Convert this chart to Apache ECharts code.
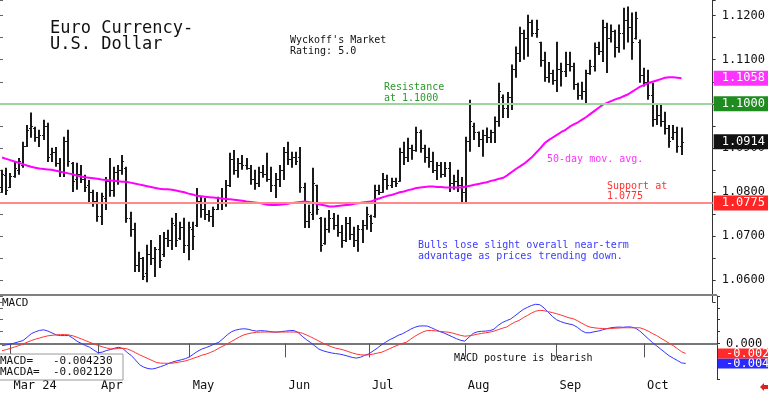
<!DOCTYPE html>
<html><head><meta charset="utf-8">
<script src="https://cdn.jsdelivr.net/npm/echarts@6/dist/echarts.min.js"></script>
<style>html,body{margin:0;padding:0;background:#fff}#c{width:768px;height:393px}</style>
</head><body><div id="c"></div>
<script>
// ---- data ----
const firstDay = '2024-02-28';
const axisLastDay = '2024-10-24';
const opens = [
1.0810,1.0838,1.0812,1.0835,1.0850,1.0862,1.0905,1.0945,1.0945,1.0925,
1.0930,1.0950,1.0885,1.0890,1.0865,1.0845,1.0915,1.0865,1.0830,1.0840,
1.0830,1.0815,1.0800,1.0780,1.0745,1.0785,1.0825,1.0805,1.0845,1.0850,
1.0855,1.0740,1.0715,1.0635,1.0650,1.0615,1.0660,1.0650,1.0670,1.0660,
1.0695,1.0690,1.0725,1.0695,1.0720,1.0680,1.0715,1.0725,1.0780,1.0760,
1.0750,1.0745,1.0762,1.0775,1.0785,1.0815,1.0875,1.0850,1.0865,1.0860,
1.0855,1.0830,1.0820,1.0845,1.0840,1.0830,1.0815,1.0830,1.0850,1.0890,
1.0875,1.0880,1.0880,1.0810,1.0735,1.0750,1.0815,1.0740,1.0685,1.0715,
1.0740,1.0725,1.0710,1.0690,1.0730,1.0705,1.0690,1.0715,1.0725,1.0745,
1.0745,1.0805,1.0800,1.0830,1.0815,1.0825,1.0825,1.0890,1.0880,1.0900,
1.0895,1.0935,1.0900,1.0880,1.0870,1.0850,1.0860,1.0840,1.0855,1.0820,
1.0825,1.0815,1.0800,1.0915,1.0950,1.0935,1.0920,1.0930,1.0925,1.0935,
1.0960,1.1015,1.0990,1.1015,1.1080,1.1115,1.1160,1.1150,1.1185,1.1160,
1.1140,1.1100,1.1060,1.1070,1.1055,1.1080,1.1075,1.1090,1.1085,1.1045,
1.1020,1.1030,1.1070,1.1085,1.1130,1.1120,1.1175,1.1150,1.1165,1.1130,
1.1160,1.1190,1.1175,1.1150,1.1140,1.1065,1.1050,1.1020,1.0965,1.0975,
1.0960,1.0945,1.0925,1.0935,1.0905];
const highs = [
1.0850,1.0855,1.0843,1.0868,1.0877,1.0914,1.0952,1.0980,1.0948,1.0941,
1.0964,1.0957,1.0900,1.0902,1.0877,1.0925,1.0941,1.0868,1.0866,1.0861,
1.0839,1.0827,1.0805,1.0800,1.0798,1.0834,1.0877,1.0857,1.0861,1.0884,
1.0857,1.0755,1.0730,1.0664,1.0652,1.0680,1.0691,1.0675,1.0702,1.0709,
1.0714,1.0741,1.0752,1.0732,1.0741,1.0732,1.0732,1.0809,1.0789,1.0786,
1.0759,1.0766,1.0789,1.0809,1.0827,1.0889,1.0895,1.0877,1.0884,1.0877,
1.0861,1.0850,1.0857,1.0861,1.0889,1.0857,1.0843,1.0861,1.0902,1.0914,
1.0891,1.0891,1.0902,1.0821,1.0771,1.0855,1.0816,1.0743,1.0741,1.0759,
1.0752,1.0748,1.0725,1.0743,1.0743,1.0721,1.0725,1.0736,1.0766,1.0748,
1.0816,1.0816,1.0843,1.0839,1.0832,1.0832,1.0900,1.0914,1.0923,1.0907,
1.0948,1.0941,1.0907,1.0900,1.0891,1.0868,1.0868,1.0868,1.0868,1.0839,
1.0850,1.0834,1.0925,1.1009,1.0957,1.0937,1.0941,1.0946,1.0941,1.0971,
1.1048,1.1021,1.1027,1.1089,1.1130,1.1175,1.1168,1.1202,1.1191,1.1191,
1.1141,1.1118,1.1095,1.1077,1.1141,1.1093,1.1118,1.1118,1.1093,1.1048,
1.1050,1.1077,1.1100,1.1139,1.1141,1.1191,1.1184,1.1180,1.1168,1.1180,
1.1218,1.1221,1.1207,1.1209,1.1146,1.1082,1.1077,1.1048,1.0998,1.0998,
1.0982,1.0952,1.0952,1.0948,1.0946];
const lows = [
1.0798,1.0793,1.0809,1.0832,1.0839,1.0855,1.0902,1.0923,1.0914,1.0902,
1.0918,1.0868,1.0868,1.0857,1.0834,1.0834,1.0857,1.0800,1.0805,1.0820,
1.0800,1.0775,1.0766,1.0732,1.0725,1.0759,1.0789,1.0789,1.0816,1.0839,
1.0730,1.0698,1.0618,1.0618,1.0600,1.0595,1.0634,1.0607,1.0627,1.0652,
1.0675,1.0668,1.0675,1.0691,1.0661,1.0645,1.0668,1.0720,1.0741,1.0736,
1.0732,1.0720,1.0759,1.0759,1.0766,1.0811,1.0839,1.0832,1.0850,1.0850,
1.0816,1.0805,1.0811,1.0832,1.0823,1.0800,1.0786,1.0811,1.0827,1.0861,
1.0855,1.0861,1.0798,1.0718,1.0718,1.0736,1.0748,1.0664,1.0680,1.0707,
1.0714,1.0698,1.0673,1.0686,1.0691,1.0675,1.0664,1.0684,1.0714,1.0709,
1.0741,1.0793,1.0798,1.0805,1.0809,1.0811,1.0823,1.0861,1.0868,1.0873,
1.0891,1.0889,1.0866,1.0855,1.0843,1.0827,1.0832,1.0834,1.0800,1.0805,
1.0800,1.0777,1.0777,1.0891,1.0918,1.0902,1.0880,1.0911,1.0911,1.0911,
1.0948,1.0968,1.0968,1.0986,1.1059,1.1095,1.1100,1.1107,1.1152,1.1150,
1.1084,1.1050,1.1048,1.1043,1.1027,1.1039,1.1061,1.1073,1.1032,1.1009,
1.1009,1.1002,1.1066,1.1073,1.1111,1.1095,1.1070,1.1139,1.1105,1.1116,
1.1123,1.1139,1.1100,1.1146,1.1048,1.1039,1.1009,1.0948,1.0952,1.0948,
1.0930,1.0900,1.0918,1.0889,1.0884];
const closes = [
1.0840,1.0805,1.0835,1.0855,1.0870,1.0905,1.0940,1.0950,1.0925,1.0930,
1.0950,1.0880,1.0890,1.0865,1.0845,1.0915,1.0870,1.0825,1.0840,1.0830,
1.0810,1.0800,1.0780,1.0745,1.0790,1.0825,1.0805,1.0845,1.0850,1.0870,
1.0740,1.0715,1.0635,1.0650,1.0610,1.0660,1.0650,1.0670,1.0645,1.0695,
1.0690,1.0730,1.0690,1.0720,1.0680,1.0720,1.0700,1.0780,1.0760,1.0750,
1.0745,1.0760,1.0775,1.0785,1.0815,1.0875,1.0850,1.0865,1.0860,1.0855,
1.0830,1.0820,1.0845,1.0840,1.0830,1.0815,1.0830,1.0850,1.0890,1.0875,
1.0880,1.0870,1.0810,1.0735,1.0755,1.0820,1.0760,1.0680,1.0715,1.0740,
1.0725,1.0710,1.0690,1.0730,1.0705,1.0690,1.0715,1.0725,1.0750,1.0730,
1.0805,1.0800,1.0830,1.0815,1.0825,1.0820,1.0890,1.0880,1.0900,1.0895,
1.0935,1.0900,1.0880,1.0870,1.0850,1.0860,1.0840,1.0855,1.0820,1.0825,
1.0815,1.0800,1.0915,1.0960,1.0935,1.0920,1.0930,1.0925,1.0935,1.0960,
1.1030,1.0990,1.1015,1.1080,1.1115,1.1160,1.1150,1.1185,1.1160,1.1170,
1.1100,1.1060,1.1070,1.1055,1.1080,1.1075,1.1090,1.1085,1.1045,1.1020,
1.1030,1.1070,1.1085,1.1130,1.1120,1.1175,1.1150,1.1165,1.1130,1.1160,
1.1190,1.1175,1.1140,1.1195,1.1065,1.1050,1.1020,1.0965,1.0975,1.0960,
1.0945,1.0915,1.0935,1.0905,1.0914];
const ma50 = [
1.0878,1.0875,1.0872,1.0869,1.0866,1.0863,1.0860,1.0857,1.0855,1.0853,
1.0852,1.0851,1.0850,1.0848,1.0846,1.0844,1.0842,1.0840,1.0837,1.0835,
1.0833,1.0832,1.0831,1.0830,1.0828,1.0827,1.0826,1.0825,1.0824,1.0823,
1.0823,1.0821,1.0819,1.0817,1.0815,1.0813,1.0811,1.0809,1.0807,1.0806,
1.0806,1.0805,1.0803,1.0801,1.0799,1.0796,1.0794,1.0791,1.0790,1.0789,
1.0788,1.0787,1.0786,1.0785,1.0784,1.0783,1.0782,1.0781,1.0780,1.0778,
1.0777,1.0776,1.0775,1.0773,1.0771,1.0770,1.0770,1.0771,1.0772,1.0773,
1.0775,1.0776,1.0777,1.0778,1.0777,1.0775,1.0773,1.0771,1.0769,1.0767,
1.0767,1.0768,1.0769,1.0770,1.0771,1.0773,1.0774,1.0776,1.0777,1.0778,
1.0782,1.0785,1.0788,1.0791,1.0793,1.0796,1.0799,1.0801,1.0804,1.0806,
1.0809,1.0810,1.0811,1.0812,1.0812,1.0811,1.0811,1.0810,1.0810,1.0810,
1.0810,1.0810,1.0812,1.0814,1.0816,1.0818,1.0820,1.0822,1.0825,1.0827,
1.0830,1.0832,1.0838,1.0845,1.0852,1.0858,1.0864,1.0872,1.0880,1.0890,
1.0900,1.0911,1.0918,1.0924,1.0930,1.0936,1.0941,1.0948,1.0953,1.0958,
1.0964,1.0970,1.0977,1.0984,1.0991,1.0998,1.1002,1.1006,1.1010,1.1013,
1.1017,1.1021,1.1027,1.1033,1.1039,1.1043,1.1047,1.1050,1.1053,1.1056,
1.1059,1.1060,1.1060,1.1059,1.1058];
const macdLine = [
-0.00047,-0.00030,-0.00015,0.00010,0.00035,0.00060,0.00130,0.00205,0.00245,0.00275,
0.00287,0.00260,0.00220,0.00180,0.00165,0.00166,0.00166,0.00110,0.00045,0.00000,
-0.00045,-0.00080,-0.00140,-0.00195,-0.00185,-0.00150,-0.00130,-0.00100,-0.00080,-0.00110,
-0.00190,-0.00255,-0.00350,-0.00450,-0.00500,-0.00530,-0.00540,-0.00520,-0.00490,-0.00460,
-0.00420,-0.00390,-0.00365,-0.00345,-0.00320,-0.00280,-0.00220,-0.00160,-0.00115,-0.00085,
-0.00050,-0.00010,0.00025,0.00100,0.00180,0.00245,0.00280,0.00300,0.00309,0.00300,
0.00275,0.00260,0.00270,0.00265,0.00255,0.00240,0.00240,0.00250,0.00260,0.00270,
0.00272,0.00230,0.00150,0.00080,0.00020,-0.00050,-0.00120,-0.00155,-0.00180,-0.00200,
-0.00215,-0.00225,-0.00245,-0.00270,-0.00295,-0.00309,-0.00290,-0.00250,-0.00220,-0.00160,
-0.00100,-0.00030,0.00025,0.00080,0.00120,0.00170,0.00202,0.00250,0.00300,0.00340,
0.00366,0.00370,0.00366,0.00330,0.00290,0.00250,0.00220,0.00180,0.00140,0.00100,
0.00065,0.00050,0.00130,0.00210,0.00245,0.00255,0.00260,0.00270,0.00300,0.00380,
0.00440,0.00480,0.00515,0.00580,0.00650,0.00715,0.00760,0.00800,0.00826,0.00815,
0.00750,0.00660,0.00570,0.00500,0.00460,0.00430,0.00410,0.00390,0.00340,0.00270,
0.00225,0.00225,0.00245,0.00260,0.00285,0.00310,0.00330,0.00340,0.00345,0.00340,
0.00350,0.00345,0.00320,0.00260,0.00180,0.00100,0.00020,-0.00050,-0.00120,-0.00190,
-0.00260,-0.00310,-0.00360,-0.00410,-0.00423];
const macdAvg = [
-0.00153,-0.00130,-0.00105,-0.00075,-0.00047,-0.00015,0.00025,0.00060,0.00090,0.00115,
0.00140,0.00160,0.00172,0.00180,0.00185,0.00187,0.00180,0.00160,0.00130,0.00096,
0.00060,0.00025,-0.00010,-0.00040,-0.00070,-0.00095,-0.00115,-0.00115,-0.00105,-0.00102,
-0.00115,-0.00150,-0.00195,-0.00240,-0.00280,-0.00320,-0.00360,-0.00400,-0.00415,-0.00418,
-0.00418,-0.00415,-0.00400,-0.00385,-0.00368,-0.00340,-0.00310,-0.00280,-0.00245,-0.00223,
-0.00190,-0.00150,-0.00100,-0.00055,-0.00010,0.00040,0.00090,0.00140,0.00180,0.00205,
0.00222,0.00235,0.00238,0.00240,0.00240,0.00240,0.00240,0.00240,0.00240,0.00240,
0.00240,0.00238,0.00215,0.00180,0.00140,0.00096,0.00050,0.00005,-0.00035,-0.00070,
-0.00100,-0.00117,-0.00140,-0.00170,-0.00200,-0.00225,-0.00240,-0.00245,-0.00240,-0.00225,
-0.00205,-0.00187,-0.00150,-0.00110,-0.00070,-0.00035,0.00000,0.00026,0.00090,0.00150,
0.00200,0.00245,0.00272,0.00272,0.00265,0.00255,0.00245,0.00238,0.00220,0.00195,
0.00170,0.00153,0.00160,0.00175,0.00195,0.00210,0.00225,0.00238,0.00260,0.00290,
0.00320,0.00345,0.00400,0.00450,0.00485,0.00540,0.00590,0.00640,0.00680,0.00698,
0.00690,0.00670,0.00650,0.00628,0.00600,0.00570,0.00540,0.00521,0.00480,0.00430,
0.00380,0.00345,0.00330,0.00320,0.00315,0.00309,0.00315,0.00320,0.00325,0.00330,
0.00330,0.00330,0.00330,0.00330,0.00300,0.00260,0.00210,0.00166,0.00110,0.00060,
0.00005,-0.00047,-0.00110,-0.00175,-0.00212];
const resistance = 1.1000;
const support = 1.0775;
const macdReadout = -0.004230;
const macdaReadout = -0.002120;
const monthNames = {'03':'Mar 24','04':'Apr','05':'May','06':'Jun','07':'Jul','08':'Aug','09':'Sep','10':'Oct'};

// ---- categories: every weekday on the chart's time axis ----
function weekdays(a, b) {
  const out = []; const d = new Date(a + 'T00:00:00Z'); const e = new Date(b + 'T00:00:00Z');
  while (d <= e) { const w = d.getUTCDay(); if (w !== 0 && w !== 6) out.push(d.toISOString().slice(0, 10)); d.setUTCDate(d.getUTCDate() + 1); }
  return out;
}
const days = weekdays(firstDay, axisLastDay);
const isMonthStart = i => i > 0 && days[i].slice(5, 7) !== days[i - 1].slice(5, 7);

const FONT = '"DejaVu Sans Mono", monospace';
const ohlcData = opens.map((o, i) => [i, o, highs[i], lows[i], closes[i]]);
const lastClose = closes[closes.length - 1];
const lastMA = ma50[ma50.length - 1];
const HIDDEN = { color: 'rgba(0,0,0,0)', width: 0, type: 'solid' };

function boxLabel(text, bg, small) {
  return { show: true, position: 'end', distance: 1, formatter: text, color: '#fff', backgroundColor: bg,
    fontFamily: FONT, fontSize: 12, padding: small ? [0, 8, 0, 8] : [2, 8, 1, 8], lineHeight: small ? 10 : 12, opacity: 1 };
}
function marker(items) {
  return { silent: true, symbol: ['none', 'none'], animation: false, precision: 6, data: items };
}

const chart = echarts.init(document.getElementById('c'), null, { renderer: 'canvas' });
chart.setOption({
  animation: false,
  backgroundColor: '#fff',
  textStyle: { fontFamily: FONT },
  grid: [
    { left: 0, right: 51, top: 0, height: 302 },
    { left: 0, right: 51, top: 296, height: 83 }
  ],
  xAxis: [
    { type: 'category', data: days, gridIndex: 0, show: false, boundaryGap: true },
    { type: 'category', data: days, gridIndex: 1, boundaryGap: true,
      axisLine: { show: true, lineStyle: { color: '#777', width: 2 } },
      axisTick: { show: true, alignWithLabel: true, length: 14, interval: (i) => isMonthStart(i), lineStyle: { color: '#555' } },
      axisLabel: { show: true, interval: (i) => isMonthStart(i), align: 'left', margin: 1, padding: [0, 0, 0, 3],
        fontFamily: FONT, fontSize: 12, color: '#111', formatter: (v) => monthNames[v.slice(5, 7)] || '' } }
  ],
  yAxis: [
    { type: 'value', gridIndex: 0, position: 'right', min: 1.0550, max: 1.12356, interval: 0.005,
      splitLine: { show: false }, axisLine: { show: true, lineStyle: { color: '#333' } },
      axisTick: { show: true, length: 3, lineStyle: { color: '#333' } },
      axisLabel: { margin: 9, fontFamily: FONT, fontSize: 12, color: '#111',
        formatter: v => Math.abs(Math.round(v * 100) - v * 100) < 1e-6 ? v.toFixed(4) : '' } },
    { type: 'value', gridIndex: 0, position: 'left', min: 1.0550, max: 1.12356, interval: 0.005,
      splitLine: { show: false }, axisLine: { show: false }, axisLabel: { show: false },
      axisTick: { show: true, inside: true, length: 3, lineStyle: { color: '#666' } } },
    { type: 'value', gridIndex: 1, position: 'right', min: -0.0075, max: 0.0100, interval: 0.0025,
      splitLine: { show: false }, axisLine: { show: true, lineStyle: { color: '#333' } },
      axisTick: { show: true, length: 3, lineStyle: { color: '#333' } },
      axisLabel: { margin: 9, fontFamily: FONT, fontSize: 12, color: '#111',
        formatter: v => Math.abs(v) < 1e-9 ? '0.000' : '' } },
    { type: 'value', gridIndex: 1, position: 'left', min: -0.0075, max: 0.0100, interval: 0.0025,
      splitLine: { show: false }, axisLine: { show: false }, axisLabel: { show: false },
      axisTick: { show: true, inside: true, length: 3, lineStyle: { color: '#666' } } }
  ],
  series: [
    { name: 'Price', type: 'custom', xAxisIndex: 0, yAxisIndex: 0, data: ohlcData,
      encode: { x: 0, y: [1, 2, 3, 4] },
      renderItem: function (params, api) {
        const i = api.value(0);
        const o = api.coord([i, api.value(1)]);
        const h = api.coord([i, api.value(2)]);
        const l = api.coord([i, api.value(3)]);
        const c = api.coord([i, api.value(4)]);
        const x = Math.round(h[0]);
        return { type: 'group', children: [
          { type: 'line', shape: { x1: x, y1: h[1], x2: x, y2: l[1] }, style: { stroke: '#1a1a1a', lineWidth: 2 } },
          { type: 'line', shape: { x1: x - 2, y1: Math.round(o[1]) + 0.5, x2: x, y2: Math.round(o[1]) + 0.5 }, style: { stroke: '#1a1a1a', lineWidth: 1 } },
          { type: 'line', shape: { x1: x, y1: Math.round(c[1]) + 0.5, x2: x + 2, y2: Math.round(c[1]) + 0.5 }, style: { stroke: '#1a1a1a', lineWidth: 1 } }
        ] };
      },
      markLine: marker([
        { yAxis: resistance, lineStyle: { color: '#9cd69c', width: 2, type: 'solid' }, label: boxLabel(resistance.toFixed(4), '#1e8c1e') },
        { yAxis: support, lineStyle: { color: '#ff8a8a', width: 2, type: 'solid' }, label: boxLabel(support.toFixed(4), '#ff2525') },
        { yAxis: lastClose, lineStyle: HIDDEN, label: boxLabel(lastClose.toFixed(4), '#111') }
      ]) },
    { name: '50-day MA', type: 'line', xAxisIndex: 0, yAxisIndex: 0, data: ma50, showSymbol: false, symbol: 'none',
      lineStyle: { color: '#ff00ff', width: 2 }, z: 3,
      markLine: marker([{ yAxis: lastMA, lineStyle: HIDDEN, label: boxLabel(lastMA.toFixed(4), '#ff33ff') }]) },
    { name: 'MACD', type: 'line', xAxisIndex: 1, yAxisIndex: 2, data: macdLine, showSymbol: false, symbol: 'none',
      lineStyle: { color: '#3333ff', width: 1 },
      markLine: marker([{ yAxis: macdReadout, lineStyle: HIDDEN, label: boxLabel(macdReadout.toFixed(3), '#2a2aff', true) }]) },
    { name: 'MACDA', type: 'line', xAxisIndex: 1, yAxisIndex: 2, data: macdAvg, showSymbol: false, symbol: 'none',
      lineStyle: { color: '#ff3333', width: 1 },
      markLine: marker([{ yAxis: macdaReadout, lineStyle: HIDDEN, label: boxLabel(macdaReadout.toFixed(3), '#ff2a2a', true) }]) }
  ],
  graphic: [
    { type: 'line', shape: { x1: 0, y1: 295, x2: 717, y2: 295 }, style: { stroke: '#808080', lineWidth: 2 }, z: 10 },
    { type: 'text', x: 50, y: 29, style: { text: 'Euro Currency-', font: '17px ' + FONT, fill: '#111', verticalAlign: 'middle', textVerticalAlign: 'middle' } },
    { type: 'text', x: 50, y: 45, style: { text: 'U.S. Dollar', font: '17px ' + FONT, fill: '#111', verticalAlign: 'middle', textVerticalAlign: 'middle' } },
    { type: 'text', x: 290, y: 40, style: { text: "Wyckoff's Market", font: '10px ' + FONT, fill: '#111', verticalAlign: 'middle', textVerticalAlign: 'middle' } },
    { type: 'text', x: 290, y: 51, style: { text: 'Rating: 5.0', font: '10px ' + FONT, fill: '#111', verticalAlign: 'middle', textVerticalAlign: 'middle' } },
    { type: 'text', x: 384, y: 87, style: { text: 'Resistance', font: '10px ' + FONT, fill: '#2a9a2a', verticalAlign: 'middle', textVerticalAlign: 'middle' } },
    { type: 'text', x: 384, y: 98, style: { text: 'at 1.1000', font: '10px ' + FONT, fill: '#2a9a2a', verticalAlign: 'middle', textVerticalAlign: 'middle' } },
    { type: 'text', x: 547, y: 159, style: { text: '50-day mov. avg.', font: '10px ' + FONT, fill: '#ff33ff', verticalAlign: 'middle', textVerticalAlign: 'middle' } },
    { type: 'text', x: 607, y: 186, style: { text: 'Support at', font: '10px ' + FONT, fill: '#ff3030', verticalAlign: 'middle', textVerticalAlign: 'middle' } },
    { type: 'text', x: 607, y: 196, style: { text: '1.0775', font: '10px ' + FONT, fill: '#ff3030', verticalAlign: 'middle', textVerticalAlign: 'middle' } },
    { type: 'text', x: 418, y: 245, style: { text: 'Bulls lose slight overall near-term', font: '10px ' + FONT, fill: '#3a3aff', verticalAlign: 'middle', textVerticalAlign: 'middle' } },
    { type: 'text', x: 418, y: 256, style: { text: 'advantage as prices trending down.', font: '10px ' + FONT, fill: '#3a3aff', verticalAlign: 'middle', textVerticalAlign: 'middle' } },
    { type: 'text', x: 2, y: 303, style: { text: 'MACD', font: '11px ' + FONT, fill: '#111', verticalAlign: 'middle', textVerticalAlign: 'middle' } },
    { type: 'text', x: 454, y: 358, style: { text: 'MACD posture is bearish', font: '10px ' + FONT, fill: '#111', verticalAlign: 'middle', textVerticalAlign: 'middle' } },
    { type: 'rect', shape: { x: -1, y: 354, width: 124, height: 26 }, style: { fill: '#fff', stroke: '#999', lineWidth: 1 }, z: 20 },
    { type: 'text', x: 0, y: 361, z: 21, style: { text: 'MACD=   ' + macdReadout.toFixed(6), font: '11px ' + FONT, fill: '#111', verticalAlign: 'middle', textVerticalAlign: 'middle' } },
    { type: 'text', x: 0, y: 372, z: 21, style: { text: 'MACDA=  ' + macdaReadout.toFixed(6), font: '11px ' + FONT, fill: '#111', verticalAlign: 'middle', textVerticalAlign: 'middle' } },
    { type: 'polygon', shape: { points: [[760, 387], [764, 383], [764, 385], [768, 385], [768, 389], [764, 389], [764, 391]] }, style: { fill: '#e02020' } }
  ]
});
</script></body></html>
